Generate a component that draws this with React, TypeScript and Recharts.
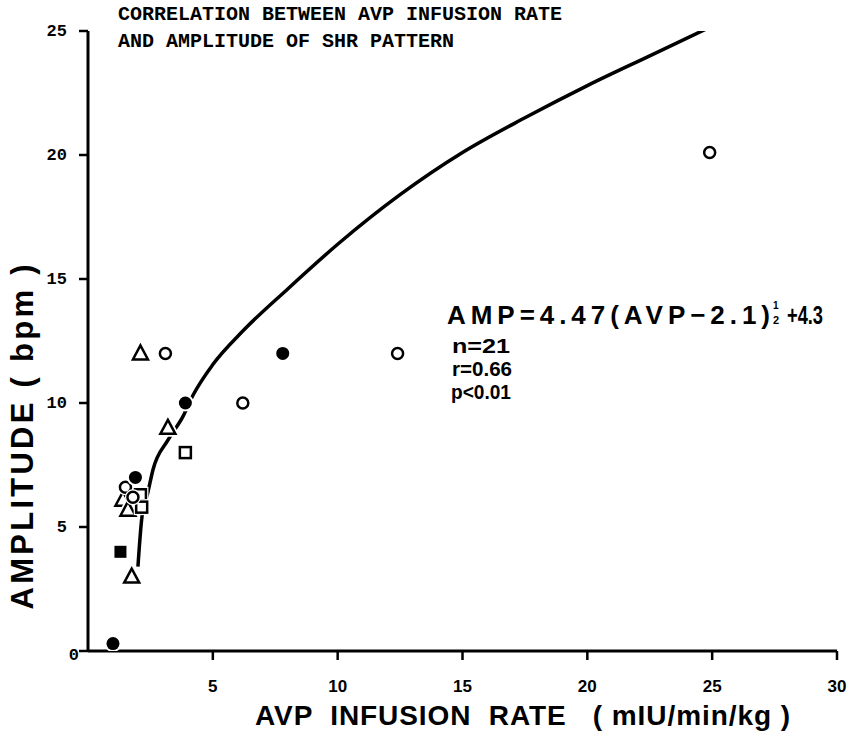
import { ComposedChart, Line, Scatter, XAxis, YAxis, Label } from 'recharts';

// values (x: mIU/min/kg, y: bpm)
const openCircles = [
  { x: 1.5, y: 6.6 },
  { x: 1.8, y: 6.2 },
  { x: 3.1, y: 12.0 },
  { x: 6.2, y: 10.0 },
  { x: 12.4, y: 12.0 },
  { x: 24.9, y: 20.1 },
];
const filledCircles = [
  { x: 1.0, y: 0.3 },
  { x: 1.9, y: 7.0 },
  { x: 3.9, y: 10.0 },
  { x: 7.8, y: 12.0 },
];
const openTriangles = [
  { x: 1.4, y: 6.1 },
  { x: 1.6, y: 5.7 },
  { x: 1.75, y: 3.0 },
  { x: 2.1, y: 12.0 },
  { x: 3.2, y: 9.0 },
];
const openSquares = [
  { x: 2.1, y: 6.3 },
  { x: 2.15, y: 5.8 },
  { x: 3.9, y: 8.0 },
];
const filledSquares = [{ x: 1.3, y: 4.0 }];

// hand drawn fit curve
const fitCurve = [
  { x: 2.0, y: 3.4 },
  { x: 2.16, y: 5.4 },
  { x: 2.4, y: 6.4 },
  { x: 2.6, y: 7.3 },
  { x: 3.2, y: 8.5 },
  { x: 3.8, y: 9.45 },
  { x: 4.2, y: 10.3 },
  { x: 5.0, y: 11.55 },
  { x: 6.2, y: 12.9 },
  { x: 8, y: 14.6 },
  { x: 10, y: 16.4 },
  { x: 12.5, y: 18.4 },
  { x: 15, y: 20.1 },
  { x: 17.5, y: 21.5 },
  { x: 20, y: 22.8 },
  { x: 22.5, y: 24.0 },
  { x: 24.8, y: 25.1 },
];

const xTicks = [5, 10, 15, 20, 25, 30];
const yTicks = [0, 5, 10, 15, 20, 25];

const INK = '#000';
const sans = '"Liberation Sans", Arial, sans-serif';
const mono = '"Liberation Mono", "DejaVu Sans Mono", monospace';

const OpenCircle = (p: any) => (
  <g>
    <circle cx={p.cx} cy={p.cy} r={8} fill="#fff" />
    <circle cx={p.cx} cy={p.cy} r={5.5} fill="#fff" stroke={INK} strokeWidth={2.5} />
  </g>
);
const FilledCircle = (p: any) => (
  <g>
    <circle cx={p.cx} cy={p.cy} r={8.5} fill="#fff" />
    <circle cx={p.cx} cy={p.cy} r={6.5} fill={INK} />
  </g>
);
const OpenTriangle = (p: any) => {
  const { cx, cy } = p;
  const pts = `${cx},${cy - 8} ${cx - 7.5},${cy + 6} ${cx + 7.5},${cy + 6}`;
  return (
    <g>
      <polygon points={pts} fill="#fff" stroke="#fff" strokeWidth={6} />
      <polygon points={pts} fill="#fff" stroke={INK} strokeWidth={2.5} />
    </g>
  );
};
const OpenSquare = (p: any) => (
  <g>
    <rect x={p.cx - 8} y={p.cy - 8} width={16} height={16} fill="#fff" />
    <rect x={p.cx - 5.5} y={p.cy - 5.5} width={11} height={11} fill="#fff" stroke={INK} strokeWidth={2.5} />
  </g>
);
const FilledSquare = (p: any) => (
  <rect x={p.cx - 6} y={p.cy - 6} width={12} height={12} fill={INK} />
);

const YTick = (p: any) => {
  const v = p.payload.value;
  const zero = v === 0;
  return (
    <text
      x={zero ? p.x + 12 : p.x}
      y={zero ? p.y + 4 : p.y}
      textAnchor="end"
      dominantBaseline="central"
      fontFamily={mono}
      fontWeight="bold"
      fontSize={17}
      fill={INK}
    >
      {v}
    </text>
  );
};

const XTitle = (props: any) => {
  const vb = props.viewBox;
  return (
    <text
      x={vb.x + 167}
      y={vb.y + 74}
      fontFamily={sans}
      fontWeight="bold"
      fontSize={28}
      textLength={535}
      lengthAdjust="spacing"
      style={{ whiteSpace: 'pre' }}
      fill={INK}
    >
      {'AVP  INFUSION  RATE   ( mIU/min/kg )'}
    </text>
  );
};

const YTitle = (props: any) => {
  const vb = props.viewBox;
  const cx = vb.x + 22;
  const cy = 437;
  return (
    <text
      x={cx}
      y={cy}
      transform={`rotate(-90, ${cx}, ${cy})`}
      textAnchor="middle"
      dominantBaseline="central"
      fontFamily={sans}
      fontWeight="bold"
      fontSize={31}
      textLength={345}
      lengthAdjust="spacing"
      style={{ whiteSpace: 'pre' }}
      fill={INK}
    >
      {'AMPLITUDE ( bpm )'}
    </text>
  );
};

export default function App() {
  return (
    <div style={{ position: 'absolute', left: 0, top: 0, width: 850, height: 732, background: '#fff' }}>
      <ComposedChart width={850} height={732} margin={{ top: 31, right: 13, left: 0, bottom: 0 }}>
        <XAxis
          type="number"
          dataKey="x"
          domain={[0, 30]}
          ticks={xTicks}
          height={81}
          axisLine={{ stroke: INK, strokeWidth: 3 }}
          tickLine={{ stroke: INK, strokeWidth: 2.5 }}
          tickSize={9}
          tickMargin={20}
          tick={{ fill: INK, fontSize: 17, fontFamily: sans, fontWeight: 'bold' }}
        >
          <Label content={XTitle} />
        </XAxis>
        <YAxis
          type="number"
          dataKey="y"
          domain={[0, 25]}
          allowDataOverflow
          ticks={yTicks}
          width={88}
          axisLine={{ stroke: INK, strokeWidth: 3 }}
          tickLine={{ stroke: INK, strokeWidth: 2.5 }}
          tickSize={9}
          tickMargin={12}
          tick={YTick}
        >
          <Label content={YTitle} />
        </YAxis>
        <Line
          data={fitCurve}
          dataKey="y"
          type="monotone"
          stroke={INK}
          strokeWidth={3.5}
          dot={false}
          isAnimationActive={false}
        />
        <Scatter data={openTriangles} dataKey="y" shape={OpenTriangle} isAnimationActive={false} />
        <Scatter data={openSquares} dataKey="y" shape={OpenSquare} isAnimationActive={false} />
        <Scatter data={openCircles} dataKey="y" shape={OpenCircle} isAnimationActive={false} />
        <Scatter data={filledSquares} dataKey="y" shape={FilledSquare} isAnimationActive={false} />
        <Scatter data={filledCircles} dataKey="y" shape={FilledCircle} isAnimationActive={false} />
      </ComposedChart>

      <svg
        width={850}
        height={732}
        style={{ position: 'absolute', left: 0, top: 0, pointerEvents: 'none' }}
      >
        <g fontFamily={mono} fontWeight="bold" fill={INK}>
          <text x={118} y={20} fontSize={20}>
            CORRELATION BETWEEN AVP INFUSION RATE
          </text>
          <text x={118} y={47} fontSize={20}>
            AND AMPLITUDE OF SHR PATTERN
          </text>
        </g>
        <g fontFamily={sans} fontWeight="bold" fill={INK}>
          <text x={447} y={324} fontSize={26} textLength={323} lengthAdjust="spacing">
            AMP=4.47(AVP−2.1)
          </text>
          <text x={773} y={309} fontSize={10}>1</text>
          <text x={773} y={324} fontSize={11}>2</text>
          <text x={787} y={324} fontSize={25} textLength={36} lengthAdjust="spacingAndGlyphs">
            +4.3
          </text>
          <text x={452} y={353} fontSize={21} textLength={58} lengthAdjust="spacingAndGlyphs">
            n=21
          </text>
          <text x={452} y={376} fontSize={21} textLength={60} lengthAdjust="spacingAndGlyphs">
            r=0.66
          </text>
          <text x={451} y={399} fontSize={21} textLength={60} lengthAdjust="spacingAndGlyphs">
            p&lt;0.01
          </text>
        </g>
      </svg>
    </div>
  );
}
